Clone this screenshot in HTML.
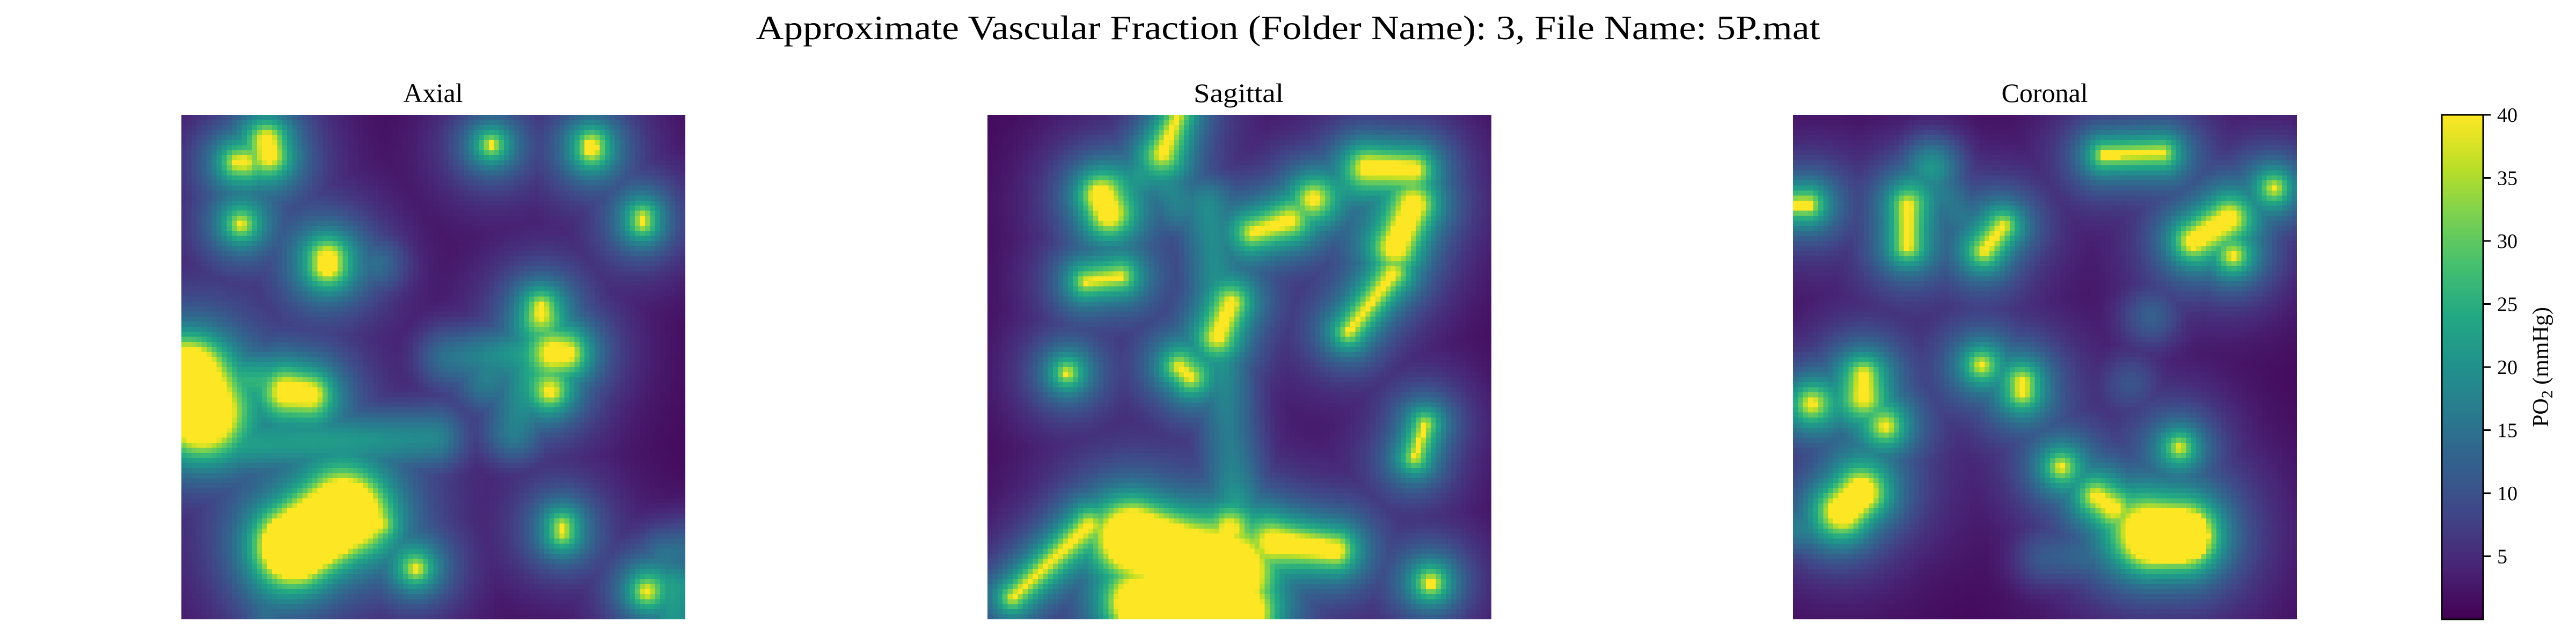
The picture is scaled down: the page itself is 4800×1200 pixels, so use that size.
<!DOCTYPE html>
<html><head><meta charset="utf-8">
<style>
html,body{margin:0;padding:0;background:#fff;}
#root{position:relative;width:4800px;height:1200px;overflow:hidden;background:#fff;}
canvas{position:absolute;image-rendering:pixelated;image-rendering:crisp-edges;}
svg{position:absolute;left:0;top:0;}
text{font-family:"Liberation Serif",serif;fill:#000;}
</style></head>
<body>
<div id="root">
<canvas id="axial" width="100" height="100" style="left:338px;top:214px;width:939px;height:940px"></canvas>
<canvas id="sagittal" width="100" height="100" style="left:1840px;top:214px;width:939px;height:940px"></canvas>
<canvas id="coronal" width="100" height="100" style="left:3341px;top:214px;width:939px;height:940px"></canvas>
<canvas id="cbar" width="1" height="256" style="left:4550px;top:214px;width:77px;height:940px;image-rendering:auto"></canvas>
<svg id="ov" width="4800" height="1200">
<text x="2400" y="73" font-size="64" text-anchor="middle" textLength="1983" lengthAdjust="spacingAndGlyphs">Approximate Vascular Fraction (Folder Name): 3, File Name: 5P.mat</text>
<text x="807" y="190" font-size="50" text-anchor="middle">Axial</text>
<text x="2308" y="190" font-size="50" text-anchor="middle" textLength="168" lengthAdjust="spacingAndGlyphs">Sagittal</text>
<text x="3810" y="190" font-size="50" text-anchor="middle">Coronal</text>
<rect x="4550" y="214" width="77" height="940" fill="none" stroke="#000" stroke-width="3"/>
<g id="cticks"></g>
<text transform="translate(4748,684) rotate(-90)" font-size="42" text-anchor="middle">PO<tspan font-size="30" dy="8">2</tspan><tspan dy="-8"> (mmHg)</tspan></text>
</svg>
</div>
<script>
// vessels: [x1, y1, x2, y2, radius, glowWeight] in 100x100 grid units (radius 0 = diffuse glow only)
const axialVessels = [
 [17,5,17.5,8,1.3,1],[11,9.4,12.5,9.4,0.5,1],[61.5,6,61.5,6,0.6,1],[81.4,6,81.4,7,1.1,1],
 [11.8,21.7,11.8,21.7,0.5,1],[91.5,20.3,91.5,21.5,0.5,1],[29,28.5,29,30,1.8,1],[39,29.6,39,29.6,0,0.5],
 [71.4,38,71.4,39.5,0.5,1],[74,47.3,76.5,47.3,0.9,1],[73.3,54.9,73.3,54.9,0.5,1],[66,63,72,45,0,0.6],
 [53,48,73,47,0,0.55],[60.7,50.4,60,53,0,0.5],[1,52,4,59,6,1],[21,55,25.5,55.5,1.6,1],[5,52,20,53,0,0.8],
 [0,66,50,64,0,0.7],[22.5,85.5,32,79,6.5,1],[39,81,39,81,0.4,1],[46.6,90,46.6,90,0.5,1],[75.6,81.5,75.6,83,0.5,1],
 [92.3,94.5,92.3,94.5,0.6,1],[98,94,98,100,0,0.8],[96,87,100,86,0,0.5],[17,96,17,100,0,0.5]
];
const sagittalVessels = [
 [37.8,0,34.8,7.6,0.45,1],[34.8,7.6,25,17,0,0.6],[35,12,38,18,0,0.5],[22.5,16,24,19.5,1.8,1],
 [19.6,33.1,26.4,32.1,0.45,1],[48.4,37.4,45.7,43.9,0.7,1],[44,18,49.5,80,0,0.6],[15.8,51.2,15.8,51.2,0.45,1],
 [38,50,40.2,52,0.45,1],[52.7,23.3,59.8,21,0.45,1],[64.7,16.6,64.7,16.6,0.45,1],[59.8,21,74,12,0,0.6],
 [75.5,10.4,84.5,10.8,1.1,1],[84.5,18,81,26,1.8,1],[80.4,31.6,71.7,43,0.5,1],[86.8,61.4,84.8,67.9,0.45,1],
 [29,84,48,91,5.5,1],[30,97,50,99,4.5,1],[57,84.7,69,86.3,1.5,1],[20.1,81.4,5,95.7,0.45,1],
 [88,92.8,88,92.8,1,1],[48,82,48,82,0.4,1]
];
const coronalVessels = [
 [61.8,8,73.3,7.6,0.6,1],[27.6,10,27.6,10,0,0.7],[1,17.8,3,17.8,0.9,1],[22.7,18,22.7,26,0.8,1],
 [41.7,22,38,27,0.5,1],[27,13,38,25,0,0.5],[86.5,20.5,79.5,25,1.5,1],[87.4,28,87.4,28,0.5,1],
 [95.5,14.5,95.5,14.5,0.45,1],[71,40,71,40,0,0.45],[14,51.6,14,56,0.6,1],[3.7,57.3,3.7,57.3,0.45,1],
 [0,58,14,55,0,0.6],[18.4,61.8,18.4,61.8,0.4,1],[37.4,49.6,37.4,49.6,0.45,1],[45.5,53,45.5,55,0.7,1],
 [67,53,67,53,0,0.35],[53.2,69.8,53.2,69.8,0.4,1],[76.7,65.9,76.7,65.9,0.4,1],[13.5,75,10,78.5,2.8,1],
 [71.5,83.5,77.5,83.5,5,1],[60.2,75.7,63.5,78,0.45,1],[63.5,78,70,82,0,0.6],[0,82,5,82,0,0.6],[50,88,60,88,0,0.4]
];
const colorTicks = [5,10,15,20,25,30,35,40];
const vmin = 0, vmax = 40;

const viridis = ["#440154","#482475","#414487","#355f8d","#2a788e","#21918c","#22a884","#44bf70","#7ad151","#bddf26","#fde725"].map(h=>[parseInt(h.slice(1,3),16),parseInt(h.slice(3,5),16),parseInt(h.slice(5,7),16)]);
function cmap(v){
  let t=(v-vmin)/(vmax-vmin); t=Math.max(0,Math.min(1,t));
  const p=t*10, i=Math.min(9,Math.floor(p)), f=p-i;
  const a=viridis[i], b=viridis[i+1];
  return [a[0]+(b[0]-a[0])*f, a[1]+(b[1]-a[1])*f, a[2]+(b[2]-a[2])*f];
}
function segDist(px,py,v){
  const dx=v[2]-v[0], dy=v[3]-v[1], L=dx*dx+dy*dy;
  let t=L?((px-v[0])*dx+(py-v[1])*dy)/L:0; t=Math.max(0,Math.min(1,t));
  const x=v[0]+t*dx-px, y=v[1]+t*dy-py; return Math.sqrt(x*x+y*y);
}
function draw(id, vessels){
  const c=document.getElementById(id), ctx=c.getContext('2d');
  const img=ctx.createImageData(100,100);
  for(let j=0;j<100;j++)for(let i=0;i<100;i++){
    const px=i+0.5, py=j+0.5; let mx=0, sum=0;
    for(const v of vessels){
      const d=segDist(px,py,v);
      let cval;
      if(v[4]<=0){
        cval=v[5]*17*Math.exp(-Math.pow(d/6.5,2))+v[5]*6*Math.exp(-d/9);
      } else {
        const dd=d-v[4];
        if(dd<=0){cval=45;}
        else{
          const e=dd, L2=7+v[4]*0.5;
          cval=v[5]*(18*Math.exp(-e/3)+18*Math.exp(-e/L2));
        }
      }
      sum+=cval; if(cval>mx)mx=cval;
    }
    const val=0.3+mx+0.25*(sum-mx);
    const col=cmap(Math.min(vmax,val)), k=(j*100+i)*4;
    img.data[k]=col[0];img.data[k+1]=col[1];img.data[k+2]=col[2];img.data[k+3]=255;
  }
  ctx.putImageData(img,0,0);
}
draw('axial',axialVessels);
draw('sagittal',sagittalVessels);
draw('coronal',coronalVessels);

// colorbar
(function(){
  const c=document.getElementById('cbar'), ctx=c.getContext('2d');
  const img=ctx.createImageData(1,256);
  for(let j=0;j<256;j++){const col=cmap(vmax-(j/255)*(vmax-vmin));img.data[j*4]=col[0];img.data[j*4+1]=col[1];img.data[j*4+2]=col[2];img.data[j*4+3]=255;}
  ctx.putImageData(img,0,0);
  const g=document.getElementById('cticks'), ns='http://www.w3.org/2000/svg';
  const yOf=v=>214+940*(vmax-v)/(vmax-vmin);
  colorTicks.forEach(v=>{
    const y=yOf(v);
    const ln=document.createElementNS(ns,'line');
    
    
    ln.setAttribute('x1',4627);ln.setAttribute('x2',4641);ln.setAttribute('y1',y);ln.setAttribute('y2',y);
    ln.setAttribute('stroke','#000');ln.setAttribute('stroke-width','3');
    g.appendChild(ln);
    const t=document.createElementNS(ns,'text');
    
    
    t.setAttribute('x',4653);t.setAttribute('y',y+13);t.setAttribute('font-size','38');
    t.textContent=String(v);
    g.appendChild(t);
  });
})();
</script>
</body></html>
